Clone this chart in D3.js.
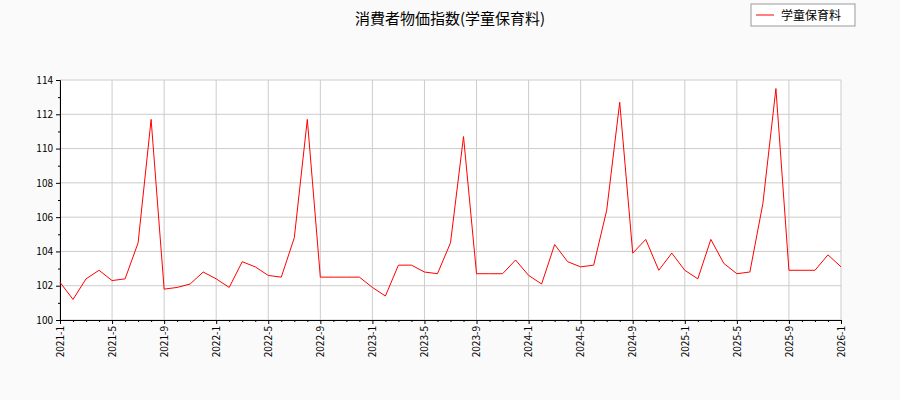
<!DOCTYPE html><html><head><meta charset="utf-8"><script src="https://cdn.jsdelivr.net/npm/d3@7"></script>
<style>body{margin:0;background:#fafafa}text{font-family:"Noto Sans CJK JP","DejaVu Sans",sans-serif}</style></head><body><svg id="c" width="900" height="400"></svg><script>
const title="消費者物価指数(学童保育料)";
const seriesName="学童保育料";
const values=[102.2,101.2,102.4,102.9,102.3,102.4,104.5,111.7,101.8,101.9,102.1,102.8,
102.4,101.9,103.4,103.1,102.6,102.5,104.8,111.7,102.5,102.5,102.5,102.5,
101.9,101.4,103.2,103.2,102.8,102.7,104.5,110.7,102.7,102.7,102.7,103.5,
102.6,102.1,104.4,103.4,103.1,103.2,106.4,112.7,103.9,104.7,102.9,103.9,
102.9,102.4,104.7,103.3,102.7,102.8,106.8,113.5,102.9,102.9,102.9,103.8,103.1];
const yTicks=[100,102,104,106,108,110,112,114];
const xTickIdx=d3.range(0,61,4);
const xLabel=i=>`${2021+Math.floor(i/12)}-${i%12+1}`;
const svg=d3.select("#c");
const L=60,R=841,T=80,B=320;
const x=d3.scaleLinear().domain([0,60]).range([L,R]);
const y=d3.scaleLinear().domain([100,114]).range([B,T]);
svg.append("rect").attr("x",L).attr("y",T).attr("width",R-L).attr("height",B-T).attr("fill","#fff");
svg.append("g").selectAll("line").data(xTickIdx).join("line").attr("x1",d=>x(d)).attr("x2",d=>x(d)).attr("y1",T).attr("y2",B).attr("stroke","#ccc");
svg.append("g").selectAll("line").data(yTicks).join("line").attr("y1",d=>y(d)).attr("y2",d=>y(d)).attr("x1",L).attr("x2",R).attr("stroke","#ccc");
const ya=svg.append("g").attr("transform",`translate(${L},0)`).call(d3.axisLeft(y).tickValues(yTicks).tickSize(4).tickSizeOuter(0));
svg.append("g").attr("transform",`translate(${L},0)`).call(d3.axisLeft(y).tickValues(d3.range(101,114,2)).tickSize(2).tickFormat("").tickSizeOuter(0));
const xa=svg.append("g").attr("transform",`translate(0,${B})`).call(d3.axisBottom(x).tickValues(xTickIdx).tickFormat(xLabel).tickSize(4).tickSizeOuter(0));
svg.append("g").attr("transform",`translate(0,${B})`).call(d3.axisBottom(x).tickValues(d3.range(0,61,1).filter(i=>i%4)).tickFormat("").tickSize(2).tickSizeOuter(0));
xa.selectAll("text").attr("transform","rotate(-90)").attr("text-anchor","end").attr("dx","-0.4em").attr("dy","-0.5em").attr("x",-2).attr("y",0).attr("dy","0.32em");
svg.selectAll(".domain,.tick line").attr("stroke","#000");
svg.selectAll(".tick text").attr("font-size",10).attr("fill","#000");
svg.append("path").datum(values).attr("fill","none").attr("stroke","#f00").attr("stroke-width",1)
 .attr("d",d3.line().x((d,i)=>x(i)).y(d=>y(d)));
svg.append("text").attr("x",450).attr("y",24).attr("text-anchor","middle").attr("font-size",15).text(title);
const lg=svg.append("g");
lg.append("rect").attr("x",751).attr("y",4).attr("width",104).attr("height",22).attr("fill","#fff").attr("stroke","#999");
lg.append("line").attr("x1",756).attr("x2",774).attr("y1",15).attr("y2",15).attr("stroke","#f00");
lg.append("text").attr("x",781).attr("y",19.5).attr("font-size",12).text(seriesName);
</script></body></html>
